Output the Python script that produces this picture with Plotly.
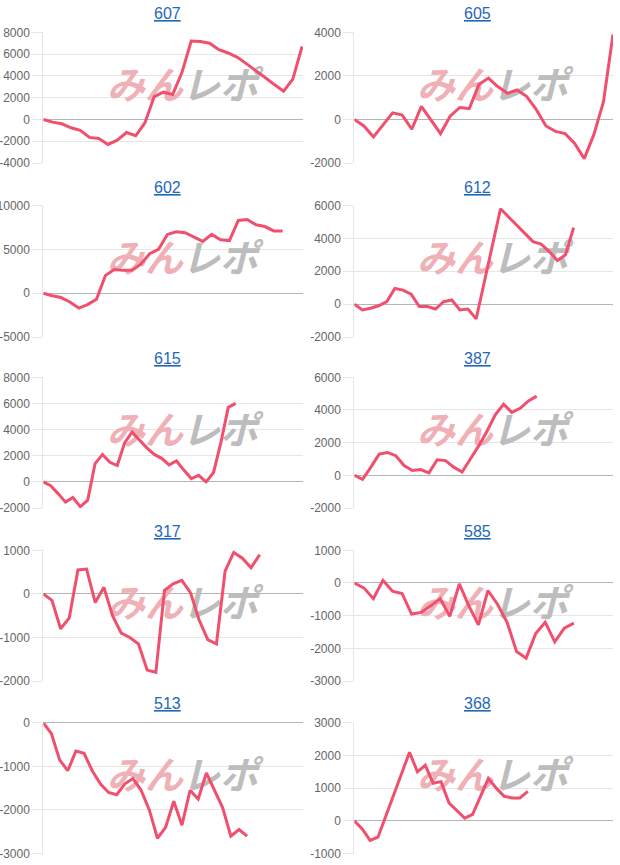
import plotly.graph_objects as go

# ---------------- data ----------------
titles = ["607", "605", "602", "612", "615", "387", "317", "585", "513", "368"]

v607 = [0, -250, -400, -770, -1000, -1650, -1750, -2300, -1900, -1200, -1500, -300, 2100, 2500,
        2300, 4300, 7200, 7150, 7000, 6400, 6100, 5700, 5100, 4500, 3850, 3200, 2600, 3700, 6700]
v605 = [0, -300, -800, -250, 300, 200, -450, 600, -50, -650, 150, 550, 500, 1600, 1900, 1500,
        1200, 1350, 1050, 450, -300, -550, -650, -1100, -1800, -700, 800, 3900]
v602 = [0, -300, -500, -1000, -1700, -1300, -700, 2000, 2700, 2600, 2600, 3300, 4500, 5000,
        6700, 7000, 6900, 6400, 5900, 6700, 6100, 6000, 8300, 8400, 7800, 7600, 7100, 7100]
v612 = [0, -350, -250, -100, 150, 950, 850, 600, -150, -150, -300, 150, 250, -350, -300, -900,
        1330, 3570, 5800, 5300, 4800, 4300, 3800, 3650, 3200, 2650, 3000, 4650]
v615 = [0, -300, -900, -1550, -1200, -1900, -1400, 1400, 2100, 1500, 1250, 3000, 3800, 3200,
        2600, 2100, 1800, 1300, 1600, 900, 250, 500, 0, 700, 3000, 5700, 6000]
v387 = [0, -250, 500, 1300, 1400, 1200, 600, 300, 350, 150, 950, 900, 500, 200, 1000, 1800,
        2700, 3700, 4350, 3850, 4100, 4550, 4850]
v317 = [0, -150, -800, -550, 550, 570, -200, 150, -500, -900, -1000, -1150, -1750, -1800, 80,
        230, 310, 30, -600, -1050, -1150, 520, 950, 820, 600, 900]
v585 = [0, -150, -480, 80, -250, -320, -950, -900, -700, -480, -1020, -30, -700, -1280, -230,
        -650, -1200, -2100, -2300, -1550, -1200, -1800, -1380, -1230]
v513 = [0, -250, -850, -1100, -650, -700, -1100, -1400, -1600, -1650, -1400, -1280, -1550,
        -2000, -2650, -2400, -1800, -2350, -1550, -1750, -1150, -1550, -1950, -2600, -2450, -2600]
v368 = [0, -250, -600, -500, 150, 800, 1450, 2100, 1500, 1700, 1150, 1200, 550, 300, 80, 200,
        750, 1300, 1000, 750, 700, 700, 900]

series = [v607, v605, v602, v612, v615, v387, v317, v585, v513, v368]

# y axis: (min, max, step)
y_axes = [(-4000, 8000, 2000), (-2000, 4000, 2000), (-5000, 10000, 5000), (-2000, 6000, 2000),
          (-2000, 8000, 2000), (-2000, 6000, 2000), (-2000, 1000, 1000), (-3000, 1000, 1000),
          (-3000, 0, 1000), (-1000, 3000, 1000)]
# number of x slots visible across each panel
x_spans = [28.1, 27, 29.3, 31.85, 35.1, 31.2, 30.0, 27.1, 31.85, 32.8]

# ---------------- layout geometry (window pixels) ----------------
W, H = 618, 861               # slightly smaller than the window to avoid scrollbars
col_x = [(43.3, 303.0), (354.3, 613.0)]
row_y = [(32.3, 163.0), (205.5, 337.0), (377.3, 508.0), (550.3, 681.0), (722.8, 853.5)]
title_y = [13.3, 187.3, 358.3, 531.3, 703.3]
title_x = 167.0
wm_pink_x, wm_gray_x, wm_dy = 145.0, 220.0, 57.0


def fx(px):
    return min(1.0, max(0.0, px / W))


def fy(py):
    return min(1.0, max(0.0, 1 - py / H))


LINE = "#f0506e"
GRID = "#e6e6e6"
TXT = "#666666"
FONT = "Liberation Sans, Arial, sans-serif"
WMFONT = "Noto Sans CJK JP"

fig = go.Figure()
layout = dict(width=W, height=H, margin=dict(l=0, r=0, t=0, b=0, autoexpand=False),
              paper_bgcolor="white", plot_bgcolor="white", showlegend=False,
              font=dict(family=FONT, color=TXT, size=12))
annotations = []

for i, vals in enumerate(series):
    r, c = divmod(i, 2)
    n = "" if i == 0 else str(i + 1)
    xa, ya = "x" + n, "y" + n
    x0, x1 = col_x[c]
    top, bot = row_y[r]
    ymin, ymax, step = y_axes[i]
    R = x_spans[i]
    tv = list(range(ymin, ymax + 1, step))

    layout["xaxis" + n] = dict(domain=[fx(x0), fx(x1)], range=[0, R], showgrid=False,
                               zeroline=False, showticklabels=False, showline=False,
                               anchor=ya, fixedrange=True)
    layout["yaxis" + n] = dict(domain=[fy(bot), fy(top)], range=[ymin, ymax],
                               tickmode="array", tickvals=tv, ticktext=[str(v) for v in tv],
                               showgrid=True, gridcolor=GRID,
                               gridwidth=1, zeroline=True, zerolinecolor="#b5b5b5",
                               zerolinewidth=1, showline=True, linecolor=GRID, linewidth=1,
                               ticks="outside", ticklen=10, tickcolor=GRID,
                               tickfont=dict(family=FONT, size=12, color=TXT),
                               anchor=xa, fixedrange=True)

    # watermark (drawn under the line)
    wy = ymax - (wm_dy / (bot - top)) * (ymax - ymin)
    px_off = 310 * c
    for txt, px, col in (("みん", wm_pink_x, "#efb0b6"), ("レポ", wm_gray_x, "#bdbdbd")):
        wx = (px + px_off - x0) / (x1 - x0) * R
        fig.add_trace(go.Scatter(x=[wx], y=[wy], mode="text", text=[txt],
                                 textfont=dict(family=WMFONT, size=38, color=col,
                                               weight="bold", style="italic"),
                                 hoverinfo="skip", xaxis=xa, yaxis=ya, cliponaxis=False))

    fig.add_trace(go.Scatter(x=list(range(len(vals))), y=vals, mode="lines",
                             line=dict(color=LINE, width=3), xaxis=xa, yaxis=ya,
                             hoverinfo="skip"))

    annotations.append(dict(text="<u>" + titles[i] + "</u>", xref="paper", yref="paper",
                            x=fx(title_x + 310 * c), y=fy(title_y[r]),
                            xanchor="center", yanchor="middle", showarrow=False,
                            font=dict(family=FONT, size=16, color="#1f68b8")))

layout["annotations"] = annotations
fig.update_layout(**layout)
fig.write_html("out.html")
